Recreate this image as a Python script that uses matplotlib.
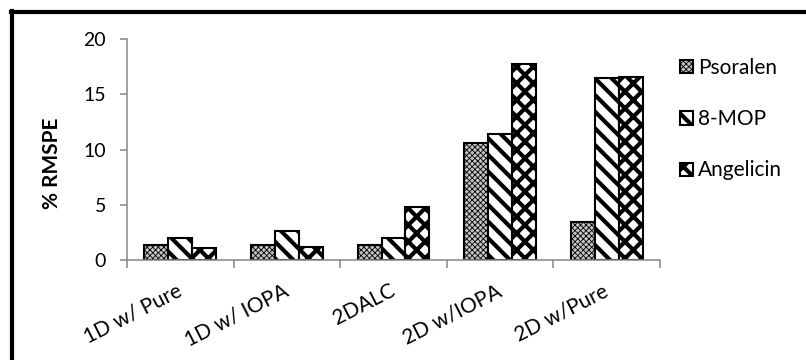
import numpy as np
import matplotlib
matplotlib.use("Agg")
import matplotlib.pyplot as plt

plt.rcParams['font.family'] = ['Lato', 'DejaVu Sans']

methods = ['1D w/ Pure', '1D w/ IOPA', '2DALC', '2D w/IOPA', '2D w/Pure']
compounds = ['Psoralen', '8-MOP', 'Angelicin']
psoralen = [1.4, 1.4, 1.4, 10.6, 3.4]
mop = [2.0, 2.6, 2.0, 11.45, 16.45]
angelicin = [1.1, 1.2, 4.8, 17.75, 16.6]

# face colour, hatch, hatch line width for each compound
styles = [
    ('#c4c4c4', 'xxxxxx', 0.6),
    ('white', '\\\\', 3.0),
    ('white', 'xx', 3.0),
]

plt.rcParams['hatch.color'] = 'black'

fig = plt.figure(figsize=(8.06, 3.6), dpi=100)
ax = fig.add_axes([127/806, 1 - 260/360, (660-127)/806, (260-39.3)/360])

x = np.arange(len(methods))
w = 0.225
handles = []
for i, vals in enumerate([psoralen, mop, angelicin]):
    fc, hatch, hlw = styles[i]
    plt.rcParams['hatch.linewidth'] = hlw
    b = ax.bar(x + (i - 1) * w, vals, w, edgecolor='black', linewidth=1.5,
               facecolor=fc, hatch=hatch, label=compounds[i])
    for p in b.patches:
        if hasattr(p, 'set_hatch_linewidth'):
            p.set_hatch_linewidth(hlw)
    handles.append(b)
plt.rcParams['hatch.linewidth'] = 3.0

ax.set_xlim(-0.5, len(methods) - 0.5)
ax.set_ylim(0, 20)
ax.set_yticks([0, 5, 10, 15, 20])
ax.tick_params(axis='y', length=5, width=1.1, color='#868686', pad=10, labelsize=14)
ax.set_xticks(x)
ax.set_xticklabels([])
ax.tick_params(axis='x', which='major', length=0)
ax.set_xticks(np.arange(len(methods) + 1) - 0.5, minor=True)
ax.tick_params(axis='x', which='minor', length=6, width=1.1, color='#868686')
for s in ['top', 'right']:
    ax.spines[s].set_visible(False)
for s in ['left', 'bottom']:
    ax.spines[s].set_color('#868686')
    ax.spines[s].set_linewidth(1.1)

# category labels, slanted
for xi, name in zip(x, methods):
    ax.annotate(name, xy=(xi, 0), xycoords=('data', 'axes fraction'),
                xytext=(-3, -15), textcoords='offset points',
                rotation=27, ha='right', va='top', rotation_mode='anchor',
                fontsize=15)

fig.text(52/806, 1 - 163/360, '% RMSPE', rotation=90, fontsize=15,
         fontweight='bold', ha='center', va='center')

leg = fig.legend(handles=handles, labels=compounds, loc='upper left',
                 bbox_to_anchor=(680/806, 1 - 58/360), frameon=False,
                 fontsize=15, handlelength=0.6, handleheight=0.6,
                 handletextpad=0.25, labelspacing=1.5, borderpad=0,
                 borderaxespad=0)
for h, (fc, hatch, hlw) in zip(leg.legend_handles, styles):
    if hasattr(h, 'set_hatch_linewidth'):
        h.set_hatch_linewidth(hlw)

# outer frame (left and top edges)
fig.add_artist(plt.Line2D([12/806, 12/806], [0, 1 - 11/360], color='black',
                          linewidth=3, transform=fig.transFigure))
fig.add_artist(plt.Line2D([10.5/806, 1], [1 - 12/360, 1 - 12/360], color='black',
                          linewidth=3, transform=fig.transFigure))

fig.savefig('out.png', dpi=100)
